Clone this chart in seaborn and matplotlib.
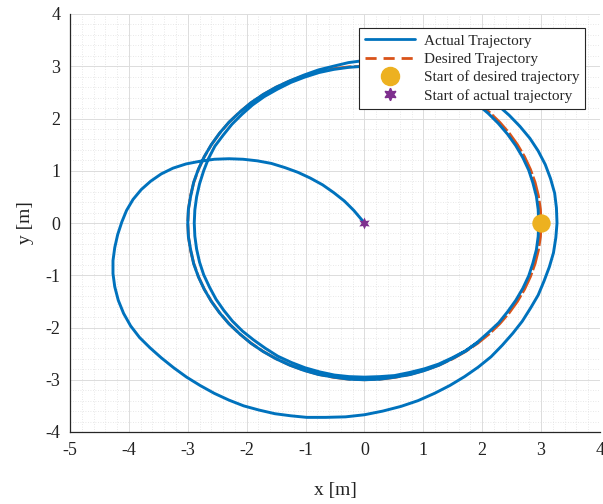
import matplotlib
matplotlib.use("Agg")
import matplotlib.pyplot as plt
import pandas as pd
import seaborn as sns
from matplotlib.ticker import MultipleLocator
from matplotlib.lines import Line2D

# ---------------- data ----------------
# actual trajectory, first wide turn (from the start point at the origin)
turn0_x = [0.00, -0.18, -0.34, -0.52, -0.71, -0.92, -1.13, -1.35, -1.58, -1.82,
           -2.06, -2.30, -2.55, -2.80, -3.03, -3.25, -3.45, -3.63, -3.79, -3.93,
           -4.04, -4.12, -4.19, -4.24, -4.27, -4.27, -4.24, -4.18, -4.09, -3.97,
           -3.82, -3.64, -3.45, -3.24, -3.02, -2.79, -2.55, -2.30, -2.05, -1.79,
           -1.52, -1.25, -0.98, -0.66, -0.32, 0.00, 0.31, 0.62, 0.91, 1.19,
           1.45, 1.70, 1.93, 2.15, 2.34, 2.52, 2.68, 2.82, 2.95, 3.05,
           3.14, 3.21, 3.25, 3.27]
turn0_y = [0.00, 0.24, 0.42, 0.58, 0.73, 0.86, 0.97, 1.06, 1.14, 1.19,
           1.22, 1.23, 1.22, 1.18, 1.13, 1.05, 0.94, 0.80, 0.64, 0.45,
           0.24, 0.02, -0.22, -0.47, -0.72, -0.97, -1.22, -1.48, -1.73, -1.97,
           -2.19, -2.39, -2.58, -2.77, -2.95, -3.11, -3.26, -3.39, -3.50, -3.58,
           -3.65, -3.69, -3.72, -3.72, -3.71, -3.67, -3.60, -3.51, -3.40, -3.26,
           -3.11, -2.94, -2.76, -2.56, -2.34, -2.11, -1.88, -1.63, -1.38, -1.11,
           -0.84, -0.57, -0.28, 0.00]
# second turn
turn1_x = [3.26, 3.23, 3.16, 3.07, 2.95, 2.81, 2.64, 2.46, 2.26, 2.04,
           1.82, 1.58, 1.33, 1.07, 0.81, 0.54, 0.27, 0.00,
           -0.27, -0.53, -0.78, -1.03, -1.27, -1.50, -1.72, -1.93, -2.12, -2.30,
           -2.46, -2.60, -2.72, -2.82, -2.90, -2.95, -2.99, -3.00,
           -2.99, -2.95, -2.90, -2.82, -2.72, -2.60, -2.46, -2.30, -2.12, -1.93,
           -1.72, -1.50, -1.27, -1.03, -0.78, -0.52, -0.26, 0.00,
           0.26, 0.52, 0.78, 1.03, 1.27, 1.50, 1.72, 1.92, 2.10, 2.28,
           2.43, 2.57, 2.69, 2.79, 2.86, 2.92, 2.95, 2.96]
turn1_y = [0.29, 0.57, 0.85, 1.12, 1.38, 1.62, 1.85, 2.06, 2.26, 2.44,
           2.60, 2.74, 2.85, 2.95, 3.02, 3.07, 3.10, 3.11,
           3.07, 3.00, 2.93, 2.83, 2.72, 2.60, 2.46, 2.30, 2.12, 1.93,
           1.72, 1.50, 1.27, 1.03, 0.78, 0.52, 0.26, 0.00,
           -0.26, -0.52, -0.78, -1.03, -1.27, -1.50, -1.72, -1.93, -2.12, -2.30,
           -2.46, -2.60, -2.72, -2.82, -2.90, -2.95, -2.99, -3.00,
           -2.99, -2.95, -2.90, -2.82, -2.72, -2.59, -2.45, -2.28, -2.10, -1.91,
           -1.70, -1.48, -1.25, -1.01, -0.77, -0.51, -0.26, 0.00]
# third turn (ends in the lower right)
turn2_x = [2.95, 2.92, 2.86, 2.79, 2.69, 2.57, 2.43, 2.27, 2.10, 1.91,
           1.71, 1.49, 1.26, 1.02, 0.78, 0.52, 0.26, 0.00,
           -0.26, -0.52, -0.77, -1.02, -1.25, -1.48, -1.70, -1.90, -2.08, -2.25,
           -2.40, -2.54, -2.65, -2.73, -2.80, -2.85, -2.88, -2.89,
           -2.88, -2.85, -2.80, -2.73, -2.63, -2.52, -2.39, -2.24, -2.07, -1.88,
           -1.68, -1.47, -1.24, -1.01, -0.76, -0.51, -0.26, 0.00,
           0.26, 0.51, 0.77, 1.02, 1.26, 1.49, 1.71, 1.92]
turn2_y = [0.26, 0.51, 0.77, 1.01, 1.25, 1.48, 1.70, 1.91, 2.10, 2.28,
           2.44, 2.58, 2.71, 2.81, 2.89, 2.95, 2.99, 3.00,
           2.98, 2.94, 2.88, 2.79, 2.69, 2.56, 2.42, 2.26, 2.08, 1.89,
           1.68, 1.47, 1.23, 1.00, 0.75, 0.50, 0.25, 0.00,
           -0.25, -0.50, -0.75, -0.99, -1.23, -1.46, -1.67, -1.88, -2.07, -2.24,
           -2.40, -2.55, -2.67, -2.77, -2.85, -2.91, -2.94, -2.95,
           -2.94, -2.92, -2.86, -2.79, -2.70, -2.58, -2.45, -2.29]

# desired trajectory (circle of radius 3)
desired_x = [3.000, 2.989, 2.954, 2.898, 2.819, 2.719, 2.598, 2.457, 2.298, 2.121,
             1.928, 1.721, 1.500, 1.268, 1.026, 0.776, 0.521, 0.261, 0.000,
             -0.261, -0.521, -0.776, -1.026, -1.268, -1.500, -1.721, -1.928, -2.121,
             -2.298, -2.457, -2.598, -2.719, -2.819, -2.898, -2.954, -2.989, -3.000,
             -2.989, -2.954, -2.898, -2.819, -2.719, -2.598, -2.457, -2.298, -2.121,
             -1.928, -1.721, -1.500, -1.268, -1.026, -0.776, -0.521, -0.261, 0.000,
             0.261, 0.521, 0.776, 1.026, 1.268, 1.500, 1.721, 1.928, 2.121,
             2.298, 2.457, 2.598, 2.719, 2.819, 2.898, 2.954, 2.989, 3.000]
desired_y = [0.000, 0.261, 0.521, 0.776, 1.026, 1.268, 1.500, 1.721, 1.928, 2.121,
             2.298, 2.457, 2.598, 2.719, 2.819, 2.898, 2.954, 2.989, 3.000,
             2.989, 2.954, 2.898, 2.819, 2.719, 2.598, 2.457, 2.298, 2.121,
             1.928, 1.721, 1.500, 1.268, 1.026, 0.776, 0.521, 0.261, 0.000,
             -0.261, -0.521, -0.776, -1.026, -1.268, -1.500, -1.721, -1.928, -2.121,
             -2.298, -2.457, -2.598, -2.719, -2.819, -2.898, -2.954, -2.989, -3.000,
             -2.989, -2.954, -2.898, -2.819, -2.719, -2.598, -2.457, -2.298, -2.121,
             -1.928, -1.721, -1.500, -1.268, -1.026, -0.776, -0.521, -0.261, 0.000]

start_desired_x, start_desired_y = [3.0], [0.0]
start_actual_x, start_actual_y = [0.0], [0.0]

x_ticks = [-5, -4, -3, -2, -1, 0, 1, 2, 3, 4]
y_ticks = [-4, -3, -2, -1, 0, 1, 2, 3, 4]
labels = ["Actual Trajectory", "Desired Trajectory",
          "Start of desired trajectory", "Start of actual trajectory"]

BLUE = "#0072BD"
ORANGE = "#D95319"
YELLOW = "#EDB120"
PURPLE = "#7E2F8E"
DARK = "#262626"

# ---------------- figure ----------------
sns.set_theme(style="white")
plt.rcParams["font.family"] = ["Liberation Serif", "DejaVu Serif"]
plt.rcParams["axes.unicode_minus"] = False

fig = plt.figure(figsize=(6.03, 5.04), dpi=100)
ax = fig.add_axes([70 / 603, 1 - 432 / 504, 530 / 603, 418 / 504])

df_des = pd.DataFrame({"x": desired_x, "y": desired_y})
df_act = pd.DataFrame({"x": turn0_x + turn1_x + turn2_x,
                       "y": turn0_y + turn1_y + turn2_y})

sns.lineplot(data=df_des, x="x", y="y", sort=False, estimator=None, ax=ax,
             color=ORANGE, linewidth=2.0, linestyle=(0, (8, 1)), zorder=2)
sns.lineplot(data=df_act, x="x", y="y", sort=False, estimator=None, ax=ax,
             color=BLUE, linewidth=2.1, zorder=3)
sns.scatterplot(x=start_desired_x, y=start_desired_y, ax=ax, s=175,
                color=YELLOW, marker="o", linewidth=0, zorder=4)
sns.scatterplot(x=start_actual_x, y=start_actual_y, ax=ax, s=75,
                color=PURPLE, marker=(6, 1, 0), linewidth=0, zorder=5)

ax.set_xlim(-5, 4)
ax.set_ylim(-4, 4)
ax.set_xticks(x_ticks)
ax.set_yticks(y_ticks)
ax.set_xticklabels([str(t) for t in x_ticks])
ax.set_yticklabels([str(t) for t in y_ticks])
ax.xaxis.set_minor_locator(MultipleLocator(0.2))
ax.yaxis.set_minor_locator(MultipleLocator(0.2))

ax.grid(which="major", color="#dcdcdc", linewidth=0.7, linestyle="-", zorder=0)
ax.grid(which="minor", color="#e0e0e0", linewidth=0.6, linestyle=(0, (1, 2)), zorder=0)
ax.set_axisbelow(True)

for side in ["top", "right"]:
    ax.spines[side].set_visible(False)
for side in ["left", "bottom"]:
    ax.spines[side].set_color(DARK)
    ax.spines[side].set_linewidth(0.9)

ax.tick_params(which="major", direction="in", length=4, width=0.8, color=DARK,
               labelsize=13, labelcolor="#222222", pad=7)
ax.tick_params(which="minor", length=0)

ax.set_xlabel("x [m]", fontsize=14, color="#222222", labelpad=17)
ax.set_ylabel("y [m]", fontsize=14, color="#222222", labelpad=8)

handles = [
    Line2D([], [], color=BLUE, linewidth=2.0),
    Line2D([], [], color=ORANGE, linewidth=2.0, linestyle=(0, (4, 2.5))),
    Line2D([], [], color=YELLOW, marker="o", markersize=13, linestyle="none"),
    Line2D([], [], color=PURPLE, marker=(6, 1, 0), markersize=9, linestyle="none"),
]
leg = ax.legend(handles, labels, loc="upper right", bbox_to_anchor=(0.972, 0.967),
                borderaxespad=0, fontsize=11, frameon=True, fancybox=False,
                edgecolor=DARK, framealpha=1, handlelength=3.3, handletextpad=0.55,
                labelspacing=0.3, borderpad=0.4)
leg.get_frame().set_linewidth(0.8)
leg.set_zorder(10)

fig.savefig("out.png", dpi=100)
